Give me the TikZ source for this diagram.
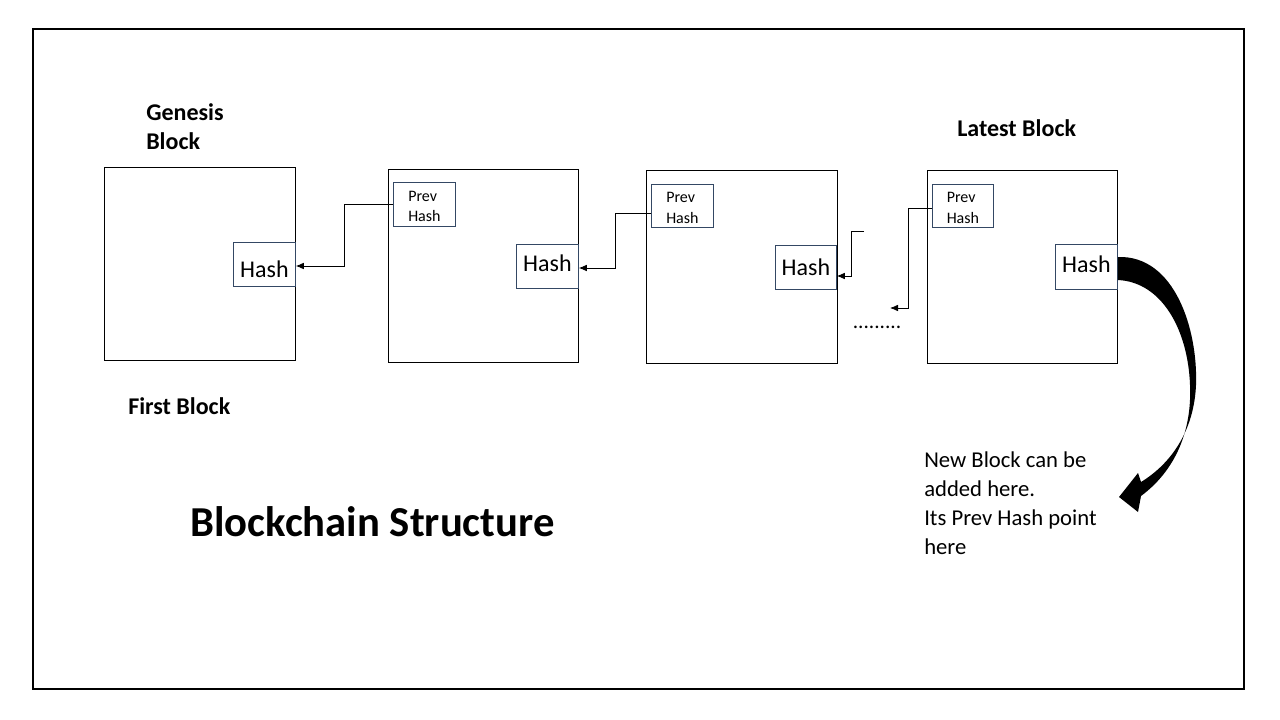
\documentclass[tikz,border=0pt]{standalone}
\usepackage{fontspec}
\setmainfont{Carlito}
\usetikzlibrary{arrows.meta}
\definecolor{boxblue}{RGB}{52,72,100}
\begin{document}
\begin{tikzpicture}[x=0.75pt,y=-0.75pt,
  blockbox/.style={draw=black,line width=0.8pt},
  hashbox/.style={draw=boxblue,line width=0.6pt,inner sep=0pt,
     label={[inner sep=0pt,font=\fontsize{18}{21}\selectfont,yshift=#1]center:Hash}},
  prevbox/.style={draw=boxblue,line width=0.6pt,inner sep=0pt,
     label={[inner sep=0pt,align=left,font=\fontsize{12}{15.5}\selectfont,yshift=-1.5pt]center:Prev\\Hash}},
  link/.style={line width=0.6pt,-{Latex[length=6pt,width=5pt]}},
  lbl/.style={inner sep=0pt,align=left}
]
\useasboundingbox (0,0) rectangle (1280,720);
\draw[line width=0.8pt] (33,29) rectangle (1244,689);

% blocks
\node[blockbox,minimum width=191*0.75pt,minimum height=193*0.75pt,anchor=north west] (b1) at (104,167) {};
\node[blockbox,minimum width=190*0.75pt,minimum height=193*0.75pt,anchor=north west] (b2) at (388,169) {};
\node[blockbox,minimum width=191*0.75pt,minimum height=193*0.75pt,anchor=north west] (b3) at (646,170) {};
\node[blockbox,minimum width=190*0.75pt,minimum height=193*0.75pt,anchor=north west] (b4) at (927,170) {};

% hash boxes
\node[hashbox=-3.5pt,minimum width=62*0.75pt,minimum height=44*0.75pt,anchor=north west] (h1) at (233,242) {};
\node[hashbox=2pt,minimum width=62*0.75pt,minimum height=44*0.75pt,anchor=north west] (h2) at (516,244) {};
\node[hashbox=0pt,minimum width=61*0.75pt,minimum height=44*0.75pt,anchor=north west] (h3) at (775,245) {};
\node[hashbox=2pt,minimum width=62*0.75pt,minimum height=45*0.75pt,anchor=north west] (h4) at (1055,244) {};

% prev hash boxes
\node[prevbox,minimum width=62*0.75pt,minimum height=44*0.75pt,anchor=north west] (p2) at (393,182) {};
\node[prevbox,minimum width=62*0.75pt,minimum height=43*0.75pt,anchor=north west] (p3) at (651,184) {};
\node[prevbox,minimum width=61*0.75pt,minimum height=43*0.75pt,anchor=north west] (p4) at (932,184) {};

% connectors
\coordinate (c3s) at (864,231);
\coordinate (c4e) at (890,308);
\draw[link] (p2.west |- 0,204) -| (344,266) -- (h1.east |- 0,266);
\draw[link] (p3.west |- 0,213) -| (615,268) -- (h2.east |- 0,268);
\draw[link] (c3s) -| (851,276) -- (h3.east |- 0,276);
\draw[link] (p4.west |- 0,208) -| (908,308) -- (c4e);

\node[lbl,font=\fontsize{16}{18}\selectfont] (dots) at (877,327) {.........};

% labels
\node[lbl,anchor=west,font=\bfseries\fontsize{18}{21.75}\selectfont] (gen) at (146,127) {Genesis\\Block};
\node[lbl,anchor=west,font=\bfseries\fontsize{18}{21.75}\selectfont] (lat) at (957,128) {Latest Block};
\node[lbl,anchor=west,font=\bfseries\fontsize{18}{21.75}\selectfont] (first) at (128,406) {First Block};
\node[lbl,anchor=west,font=\bfseries\fontsize{32}{36}\selectfont] (title) at (190,522) {Blockchain Structure};
\node[lbl,anchor=west,font=\fontsize{17}{21.75}\selectfont] (note) at (924,503) {New Block can be\\added here.\\Its Prev Hash point\\here};

% curved thick arrow
\fill[black] (h4.east |- 0,257) .. controls (1175,255) and (1198,330) .. (1196,385)
  .. controls (1194,430) and (1172,463) .. (1141,482)
  -- (1138,473) -- (1119,497) -- (1138,512) -- (1141,496)
  .. controls (1176,470) and (1192,430) .. (1190,385)
  .. controls (1188,330) and (1162,282) .. (h4.east |- 0,280) -- cycle;
\end{tikzpicture}
\end{document}
